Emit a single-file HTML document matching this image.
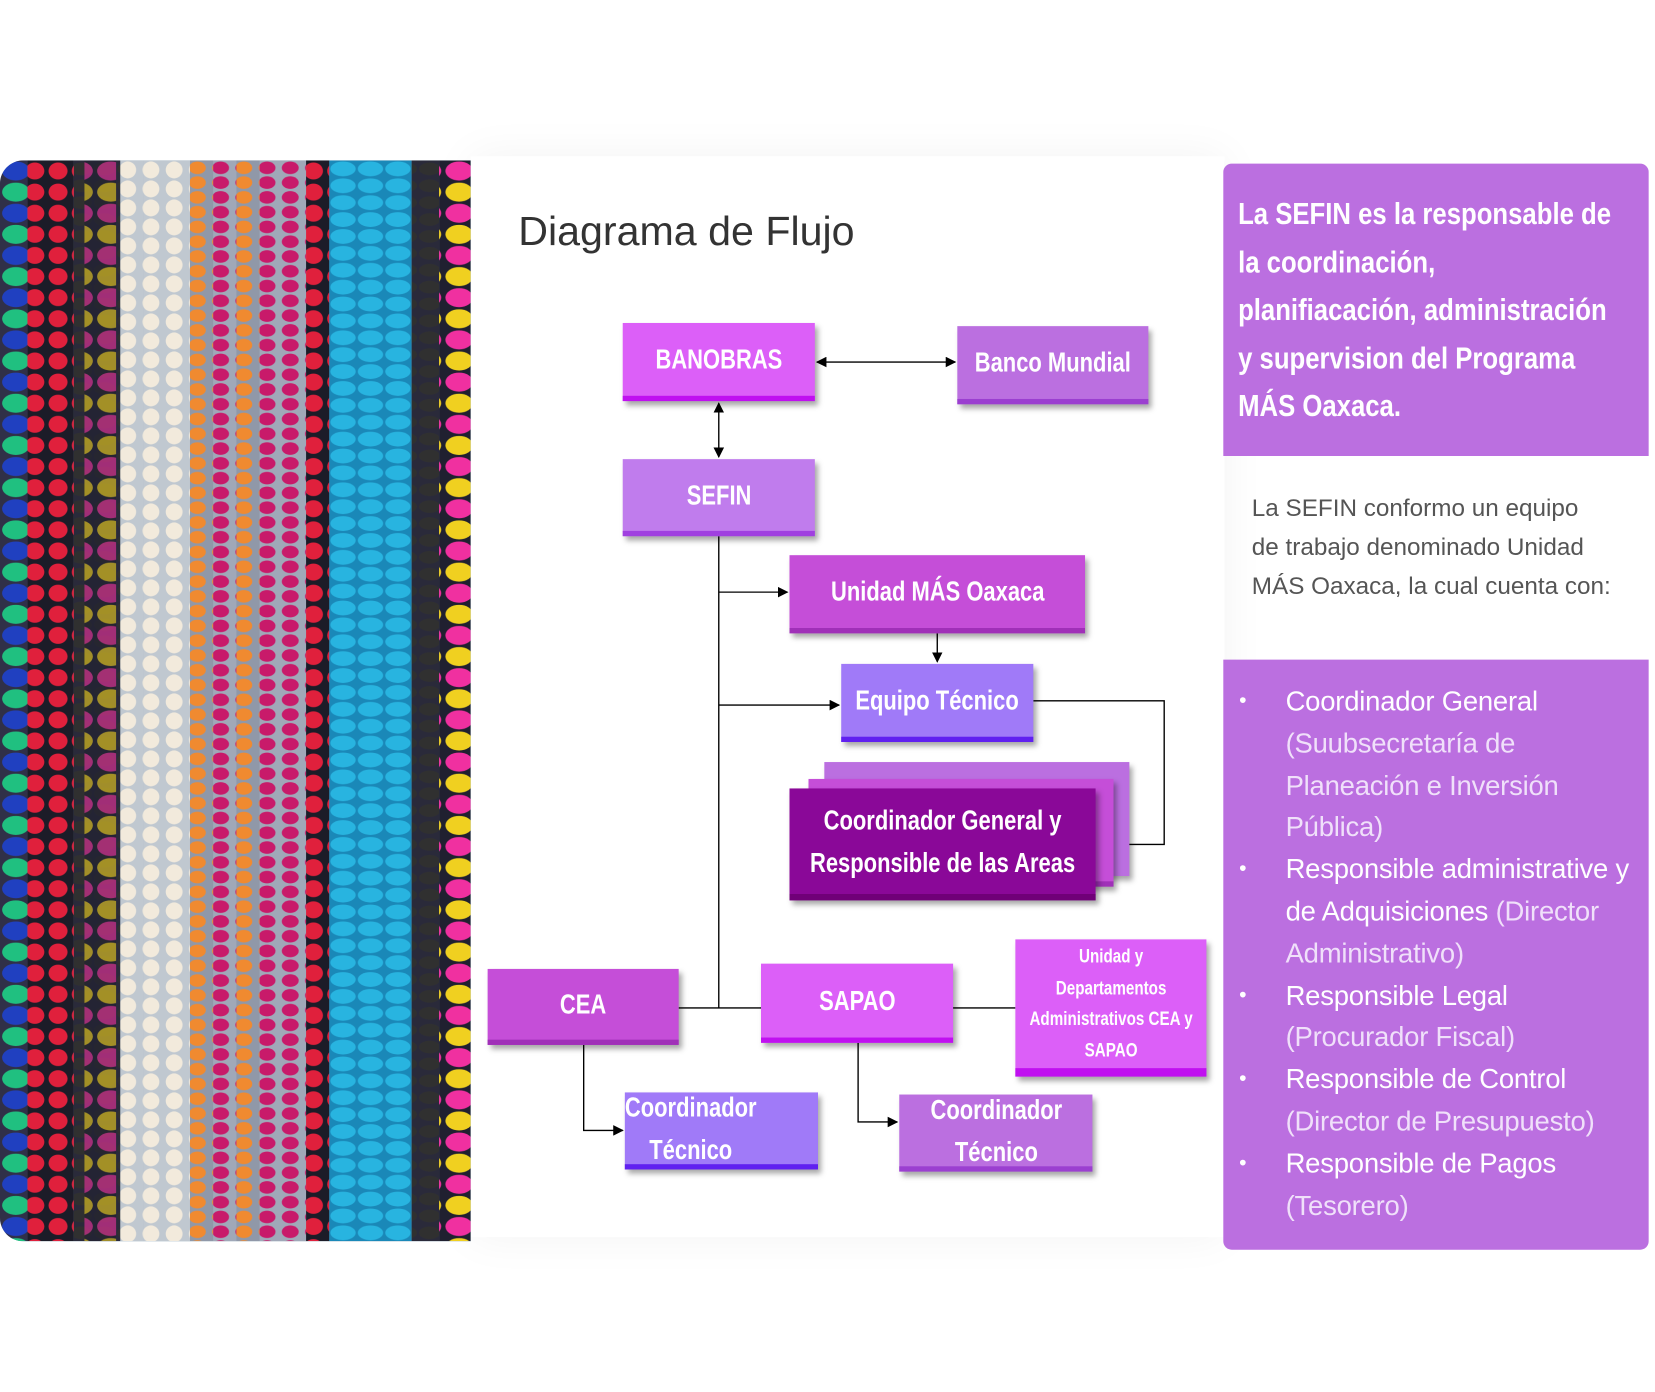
<!DOCTYPE html>
<html><head><meta charset="utf-8"><style>
html,body{margin:0;padding:0;background:#fff;overflow:hidden;width:1655px;height:1392px}
#f{position:absolute;left:0;top:0;width:1568px;height:1319px;transform:scale(1.05548);transform-origin:0 0;font-family:"Liberation Sans",sans-serif}
.b{position:absolute;box-sizing:border-box;color:#fff;font-family:"Liberation Sans",sans-serif;font-weight:bold;display:flex;align-items:center;justify-content:center;text-align:center;box-shadow:3px 4px 5px rgba(0,0,0,.35);white-space:nowrap}
.b span{display:inline-block;transform:scaleX(.8);white-space:nowrap}
.photo{position:absolute;left:0;top:152px;width:446px;height:1024px;border-radius:22px 0 0 22px;overflow:hidden;background:#8aa6b8}
.card{position:absolute;left:446px;top:148px;width:714px;height:1024px;background:#fff;box-shadow:0 0 40px rgba(0,0,0,.05)}
.rt{position:absolute;left:1159px;top:155px;width:403px;height:277px;background:#bb6fe0;border-radius:8px 8px 0 0;box-sizing:border-box;padding:26px 0 0 14px;color:#fff;font-weight:bold;font-size:29px;line-height:45.5px;overflow:hidden}
.rt div{white-space:nowrap;transform:scaleX(.84);transform-origin:0 50%}
.rb{position:absolute;left:1159px;top:625px;width:403px;height:559px;background:#bb6fe0;border-radius:0 0 8px 8px;box-sizing:border-box;padding:20px 0 0 0;color:#f0e0fa;font-size:26px;line-height:39.8px;font-weight:300;letter-spacing:-.2px}
.rb div{position:relative;padding-left:59px;white-space:nowrap}
.rb div:before{content:"•";position:absolute;left:15px;color:#fff;font-size:20px}
.rb b{font-weight:normal;color:#fff}
</style></head><body><div id="f">
<div class="card"></div>
<div class="photo">
<svg width="446" height="1024">
<defs>
<pattern id="p1" width="22" height="20" patternUnits="userSpaceOnUse"><rect width="22" height="20" fill="#1c1c28"/><ellipse cx="11" cy="10" rx="9" ry="8" fill="#e0203c"/></pattern>
<pattern id="p2" width="22" height="16" patternUnits="userSpaceOnUse"><rect width="22" height="16" fill="#2a2a3a"/><ellipse cx="11" cy="8" rx="10" ry="6" fill="#303030"/></pattern>
<pattern id="p3" width="22" height="18" patternUnits="userSpaceOnUse"><rect width="22" height="18" fill="#c0c8d0"/><circle cx="11" cy="9" r="8" fill="#f2eadc"/></pattern>
<pattern id="p4" width="22" height="14" patternUnits="userSpaceOnUse"><rect width="22" height="14" fill="#9098a8"/><ellipse cx="11" cy="7" rx="8" ry="6" fill="#f08a30"/></pattern>
<pattern id="p5" width="22" height="14" patternUnits="userSpaceOnUse"><rect width="22" height="14" fill="#a0a8b8"/><ellipse cx="11" cy="7" rx="8" ry="6" fill="#c81a6a"/></pattern>
<pattern id="p6" width="26" height="16" patternUnits="userSpaceOnUse"><rect width="26" height="16" fill="#1a88b8"/><ellipse cx="13" cy="8" rx="12" ry="7" fill="#28b4e0"/></pattern>
<pattern id="p7" width="30" height="40" patternUnits="userSpaceOnUse"><rect width="30" height="40" fill="#202030"/><ellipse cx="15" cy="10" rx="13" ry="9" fill="#f030a0"/><ellipse cx="15" cy="30" rx="13" ry="9" fill="#f0d020"/></pattern>
<pattern id="p8" width="30" height="40" patternUnits="userSpaceOnUse"><rect width="30" height="40" fill="#303048"/><ellipse cx="15" cy="10" rx="13" ry="9" fill="#2040c0"/><ellipse cx="15" cy="30" rx="13" ry="9" fill="#20c080"/></pattern>
</defs>
<rect x="0" y="0" width="26" height="1024" fill="url(#p8)"/>
<rect x="26" y="0" width="44" height="1024" fill="url(#p1)"/>
<rect x="70" y="0" width="44" height="1024" fill="url(#p2)"/>
<rect x="80" y="0" width="30" height="1024" fill="url(#p7)" opacity=".6"/>
<rect x="114" y="0" width="22" height="1024" fill="url(#p3)"/>
<rect x="136" y="0" width="44" height="1024" fill="url(#p3)"/>
<rect x="180" y="0" width="22" height="1024" fill="url(#p4)"/>
<rect x="202" y="0" width="22" height="1024" fill="url(#p5)"/>
<rect x="224" y="0" width="22" height="1024" fill="url(#p4)"/>
<rect x="246" y="0" width="44" height="1024" fill="url(#p5)"/>
<rect x="290" y="0" width="22" height="1024" fill="url(#p1)"/>
<rect x="312" y="0" width="78" height="1024" fill="url(#p6)"/>
<rect x="390" y="0" width="26" height="1024" fill="url(#p2)"/>
<rect x="416" y="0" width="30" height="1024" fill="url(#p7)"/>
</svg></div>

<div style="position:absolute;left:491px;top:198px;font-size:39px;color:#333;font-weight:300;transform:scaleX(1);transform-origin:0 0;white-space:nowrap">Diagrama de Flujo</div>

<svg style="position:absolute;left:0;top:0" width="1568" height="1319">
<defs><marker id="a" markerWidth="10" markerHeight="10" refX="9" refY="5" orient="auto-start-reverse" markerUnits="userSpaceOnUse"><path d="M0,0 L10,5 L0,10 z" fill="#000"/></marker></defs>
<g stroke="#000" stroke-width="1.3" fill="none">
<line x1="774" y1="343" x2="905" y2="343" marker-start="url(#a)" marker-end="url(#a)"/>
<line x1="681" y1="382" x2="681" y2="433" marker-start="url(#a)" marker-end="url(#a)"/>
<line x1="681" y1="508" x2="681" y2="955"/>
<line x1="681" y1="561" x2="746" y2="561" marker-end="url(#a)"/>
<line x1="888" y1="600" x2="888" y2="627" marker-end="url(#a)"/>
<line x1="681" y1="668" x2="795" y2="668" marker-end="url(#a)"/>
<polyline points="979,664 1103,664 1103,800 1045,800" marker-end="url(#a)"/>
<line x1="643" y1="955" x2="962" y2="955"/>
<polyline points="553,990 553,1071 590,1071" marker-end="url(#a)"/>
<polyline points="813,988 813,1063 850,1063" marker-end="url(#a)"/>
</g></svg>

<div class="b" style="left:590px;top:306px;width:182px;height:74px;background:#dc5ff8;border-bottom:5px solid #c010f0;font-size:26px"><span>BANOBRAS</span></div>
<div class="b" style="left:907px;top:309px;width:181px;height:74px;background:#bb6fe0;border-bottom:5px solid #9b3fd0;font-size:26px"><span>Banco Mundial</span></div>
<div class="b" style="left:590px;top:435px;width:182px;height:73px;background:#c07ced;border-bottom:5px solid #a040e0;font-size:26px"><span>SEFIN</span></div>
<div class="b" style="left:748px;top:526px;width:280px;height:74px;background:#c54ed8;border-bottom:5px solid #a030b8;font-size:26px"><span>Unidad MÁS Oaxaca</span></div>
<div class="b" style="left:797px;top:629px;width:182px;height:74px;background:#a07af8;border-bottom:5px solid #6020f0;font-size:26px"><span>Equipo Técnico</span></div>
<div class="b" style="left:781px;top:722px;width:289px;height:108px;background:#bb6fe0"></div>
<div class="b" style="left:766px;top:738px;width:289px;height:102px;background:#c54ed8;border-bottom:5px solid #a030b8"></div>
<div class="b" style="left:748px;top:747px;width:290px;height:106px;background:#8a0898;border-bottom:6px solid #700078;font-size:26px;line-height:40px"><span>Coordinador General y<br>Responsible de las Areas</span></div>
<div class="b" style="left:462px;top:918px;width:181px;height:72px;background:#c54ed8;border-bottom:5px solid #a030b8;font-size:26px"><span>CEA</span></div>
<div class="b" style="left:721px;top:913px;width:182px;height:75px;background:#dc5ff8;border-bottom:5px solid #c010f0;font-size:26px"><span>SAPAO</span></div>
<div class="b" style="left:962px;top:890px;width:181px;height:130px;background:#dc5ff8;border-bottom:8px solid #c010f0;font-size:18px;line-height:29.5px"><span>Unidad y<br>Departamentos<br>Administrativos CEA y<br>SAPAO</span></div>
<div class="b" style="left:592px;top:1035px;width:183px;height:73px;background:#a07af8;border-bottom:5px solid #6020f0;font-size:26px;line-height:40px;justify-content:flex-start;text-align:left"><span style="transform-origin:0 50%">Coordinador<br>&nbsp;&nbsp;&nbsp;&nbsp;Técnico</span></div>
<div class="b" style="left:852px;top:1037px;width:183px;height:73px;background:#bb6fe0;border-bottom:5px solid #9b3fd0;font-size:26px;line-height:40px"><span>Coordinador<br>Técnico</span></div>

<div class="rt"><div>La SEFIN es la responsable de</div><div>la coordinación,</div><div>planifiacación, administración</div><div>y supervision del Programa</div><div>MÁS Oaxaca.</div></div>
<div style="position:absolute;left:1186px;top:463px;font-size:23px;line-height:37px;color:#555;font-weight:300;white-space:nowrap">La SEFIN conformo un equipo<br>de trabajo denominado Unidad<br>MÁS Oaxaca, la cual cuenta con:</div>
<div class="rb">
<div><b>Coordinador General</b><br>(Suubsecretaría de<br>Planeación e Inversión<br>Pública)</div>
<div><b>Responsible administrative y<br>de Adquisiciones</b> (Director<br>Administrativo)</div>
<div><b>Responsible Legal</b><br>(Procurador Fiscal)</div>
<div><b>Responsible de Control</b><br>(Director de Presupuesto)</div>
<div><b>Responsible de Pagos</b><br>(Tesorero)</div>
</div>
</div></body></html>
